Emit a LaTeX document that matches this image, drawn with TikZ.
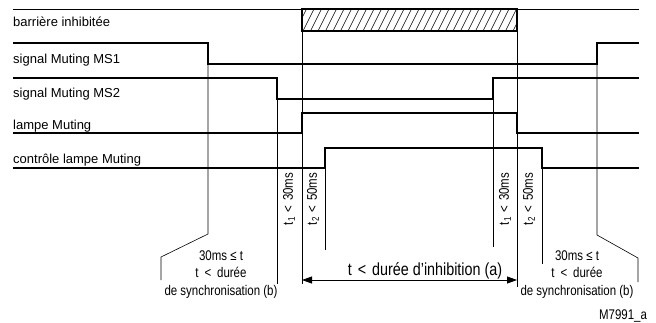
\documentclass[tikz,border=0pt]{standalone}
\usepackage{fontspec}
\setmainfont{Liberation Sans}
\newfontfamily\cond[FakeStretch=0.82]{Liberation Sans}
\usetikzlibrary{arrows.meta}
\newcommand{\lt}[1]{\ \hspace{#1}<\hspace{#1}\ }
\begin{document}
\begin{tikzpicture}[x=1pt,y=-1pt,
  sig/.style={line width=1.4pt,line join=miter},
  thinline/.style={line width=0.6pt},
  rowlbl/.style={anchor=base west,inner sep=0,font=\fontsize{13}{15}\selectfont},
  small/.style={inner sep=0,font=\cond\fontsize{14}{16}\selectfont},
  big/.style={inner sep=0,font=\cond\fontsize{17.5}{20}\selectfont},
  dim/.style={line width=0.8pt,{Triangle[length=10pt,width=7pt]}-{Triangle[length=10pt,width=7pt]}}]
\useasboundingbox (0,0) rectangle (656,322);
% row labels
\node[rowlbl] (l1) at (13,26) {barrière inhibitée};
\node[rowlbl] (l2) at (13,63) {signal Muting MS1};
\node[rowlbl] (l3) at (13,97) {signal Muting MS2};
\node[rowlbl] (l4) at (13,129) {lampe Muting};
\node[rowlbl] (l5) at (13,163) {contrôle lampe Muting};
% barrier
\draw[line width=1pt] (13,9) -- (639,9);
\begin{scope}
\clip (302,9) rectangle (517,31);
\foreach \x in {288,295.5,...,522} \draw[line width=0.5pt] (\x,31) -- (\x+11,9);
\end{scope}
\draw[line width=1.2pt] (302,9) rectangle (517,31);
% signals
\draw[sig] (13,43) -- (208,43) -- (208,64) -- (597,64) -- (597,43) -- (639,43);
\draw[sig] (13,78) -- (277,78) -- (277,99) -- (493,99) -- (493,78) -- (639,78);
\draw[sig] (13,133) -- (302,133) -- (302,113) -- (517,113) -- (517,133) -- (639,133);
\draw[sig] (13,168) -- (325,168) -- (325,148) -- (542,148) -- (542,168) -- (639,168);
% thin verticals
\draw[thinline] (208,43) -- (208,234) -- (161,257) -- (161,280);
\draw[thinline] (277,78) -- (277,284);
\draw[thinline] (302,9) -- (302,284);
\draw[thinline] (325,168) -- (325,250);
\draw[thinline] (493,78) -- (493,247);
\draw[thinline] (517,9) -- (517,287);
\draw[thinline] (542,168) -- (542,264);
\draw[thinline] (597,43) -- (597,235) -- (638,258) -- (638,282);
% rotated labels
\node[small,rotate=90] (t1a) at (289,199) {t\textsubscript{1}\lt{1.5pt}30ms};
\node[small,rotate=90] (t2a) at (313,199) {t\textsubscript{2}\lt{1.5pt}50ms};
\node[small,rotate=90] (t1b) at (505,199) {t\textsubscript{1}\lt{1.5pt}30ms};
\node[small,rotate=90] (t2b) at (529,199) {t\textsubscript{2}\lt{1.5pt}50ms};
% inhibition arrow
\coordinate (aL) at (302,280);
\coordinate (aR) at (517,280);
\draw[dim] (aL) -- (aR);
\node[big,anchor=base] (inh) at (425,275) {t\lt{2pt}durée d’inhibition (a)};
% synchronisation texts
\node[small,anchor=base] (s1a) at (221,260) {30ms ≤ t};
\node[small,anchor=base] (s2a) at (221,277) {t\lt{2.7pt}durée};
\node[small,anchor=base] (s3a) at (221,295) {de synchronisation (b)};
\node[small,anchor=base] (s1b) at (577,260) {30ms ≤ t};
\node[small,anchor=base] (s2b) at (577,277) {t\lt{2.7pt}durée};
\node[small,anchor=base] (s3b) at (577,295) {de synchronisation (b)};
\node[small,anchor=base] (ref) at (623,319) {M7991\_a};
\end{tikzpicture}
\end{document}
